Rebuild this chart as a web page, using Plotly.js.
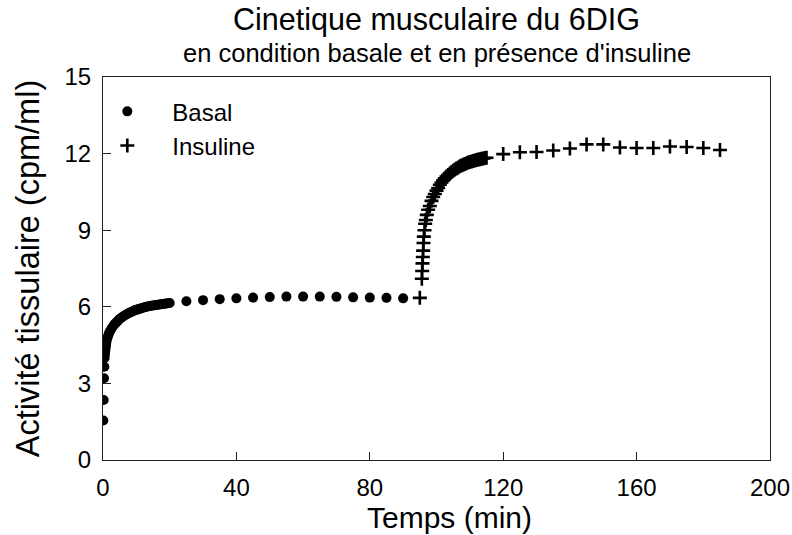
<!DOCTYPE html>
<html>
<head>
<meta charset="utf-8">
<script src="https://cdn.plot.ly/plotly-3.0.1.min.js"></script>
<style>html,body{margin:0;padding:0;background:#fff;}#chart{width:792px;height:535px;}</style>
</head>
<body>
<div id="chart"></div>
<script>
// Basal series (time in min, activity in cpm/ml)
const basalTime = [0.1, 0.2, 0.3, 0.4, 0.5, 0.6, 0.7, 0.8, 0.9, 1.0, 1.25, 1.5, 1.75, 2, 2.5, 3, 3.5, 4, 4.5, 5, 5.5, 6, 6.5, 7, 7.5, 8, 8.5, 9, 9.5, 10, 10.5, 11, 11.5, 12, 12.5, 13, 13.5, 14, 14.5, 15, 15.5, 16, 16.5, 17, 17.5, 18, 18.5, 19, 19.5, 20,
  25, 30, 35, 40, 45, 50, 55, 60, 65, 70, 75, 80, 85, 90];
const basalValue = [1.55, 2.35, 3.2, 3.65, 4.0, 4.15, 4.28, 4.4, 4.5, 4.6, 4.74, 4.85, 4.94, 5.02, 5.14, 5.24, 5.32, 5.39, 5.46, 5.52, 5.57, 5.62, 5.66, 5.7, 5.74, 5.77, 5.8, 5.83, 5.86, 5.88, 5.9, 5.92, 5.94, 5.96, 5.98, 6.0, 6.01, 6.03, 6.04, 6.05, 6.06, 6.07, 6.08, 6.09, 6.1, 6.11, 6.12, 6.13, 6.14, 6.15,
  6.22, 6.26, 6.3, 6.33, 6.36, 6.38, 6.4, 6.4, 6.4, 6.39, 6.37, 6.36, 6.35, 6.33];

// Insulin series
const insulinTime = [95, 95.6, 95.7, 95.8, 95.9, 96.0, 96.1, 96.2, 96.4, 96.6, 96.8, 97.1, 97.5, 98, 98.5, 99, 99.5, 100, 100.5, 101, 101.5, 102, 102.5, 103, 103.5, 104, 104.5, 105, 105.5, 106, 106.5, 107, 107.5, 108, 108.5, 109, 109.5, 110, 110.5, 111, 111.5, 112, 112.5, 113, 113.5, 114, 114.5, 115,
  120, 125, 130, 135, 140, 145, 150, 155, 160, 165, 170, 175, 180, 185];
const insulinValue = [6.35, 7.1, 7.4, 7.7, 7.95, 8.2, 8.5, 8.75, 9.0, 9.25, 9.4, 9.6, 9.8, 9.95, 10.15, 10.3, 10.42, 10.55, 10.65, 10.78, 10.87, 10.95, 11.03, 11.1, 11.16, 11.22, 11.28, 11.33, 11.38, 11.42, 11.46, 11.5, 11.53, 11.56, 11.59, 11.62, 11.65, 11.67, 11.69, 11.71, 11.73, 11.75, 11.77, 11.78, 11.8, 11.81, 11.83, 11.84,
  11.98, 12.05, 12.06, 12.12, 12.2, 12.36, 12.36, 12.24, 12.22, 12.22, 12.28, 12.26, 12.22, 12.14];

const seriesNames = ['Basal', 'Insuline'];
const xTicks = [0, 40, 80, 120, 160, 200];
const yTicks = [0, 3, 6, 9, 12, 15];
const xTitle = 'Temps (min)';
const yTitle = 'Activité tissulaire (cpm/ml)';

const FONT = 'Liberation Sans, Arial, Helvetica, sans-serif';

const traces = [
  {
    x: basalTime, y: basalValue, name: seriesNames[0], type: 'scatter', mode: 'markers',
    legendgroup: 'a',
    marker: {symbol: 'circle', size: 10, color: '#000'}
  },
  {
    x: insulinTime, y: insulinValue, name: seriesNames[1], type: 'scatter', mode: 'markers',
    legendgroup: 'b',
    marker: {symbol: 'cross-thin-open', size: 10, color: '#000', line: {color: '#000', width: 2.6}}
  }
];

const axisCommon = {
  showgrid: false, zeroline: false, showline: true, mirror: true,
  linecolor: '#222', linewidth: 1,
  ticks: 'inside', ticklen: 8, tickwidth: 1, tickcolor: '#222',
  tickfont: {family: FONT, size: 24, color: '#000'}
};

const layout = {
  width: 792, height: 535,
  margin: {l: 103, r: 22, t: 77, b: 75},
  paper_bgcolor: '#fff', plot_bgcolor: '#fff',
  font: {family: FONT, color: '#000'},
  title: {
    text: 'Cinetique musculaire du 6DIG',
    font: {family: FONT, size: 30.5, color: '#000'},
    x: 0.5, xanchor: 'center', xref: 'paper',
    y: 0.9645, yanchor: 'middle', yref: 'container'
  },
  annotations: [
    {
      text: "en condition basale et en présence d'insuline",
      xref: 'paper', yref: 'paper', x: 0.5, y: 1.0627, xanchor: 'center', yanchor: 'middle',
      showarrow: false, font: {family: FONT, size: 25.5, color: '#000'}
    },
    {
      text: xTitle,
      xref: 'paper', yref: 'paper', x: 0.52, y: -0.1514, xanchor: 'center', yanchor: 'middle',
      showarrow: false, font: {family: FONT, size: 30, color: '#000'}
    }
  ],
  xaxis: Object.assign({}, axisCommon, {
    range: [0, 200], tickvals: xTicks, ticktext: xTicks.map(String),
    ticklabelstandoff: 6
  }),
  yaxis: Object.assign({}, axisCommon, {
    range: [0, 15], tickvals: yTicks, ticktext: yTicks.map(String),
    ticklabelstandoff: 6,
    title: {text: yTitle, font: {family: FONT, size: 32.5, color: '#000'}, standoff: 15}
  }),
  showlegend: true,
  legend: {
    x: -0.031, y: 0.968, xanchor: 'left', yanchor: 'top',
    bgcolor: 'rgba(0,0,0,0)', borderwidth: 0,
    font: {family: FONT, size: 24, color: '#000'},
    traceorder: 'grouped', tracegroupgap: 0, itemwidth: 80
  }
};

Plotly.newPlot('chart', traces, layout, {displayModeBar: false, staticPlot: true});
</script>
</body>
</html>
